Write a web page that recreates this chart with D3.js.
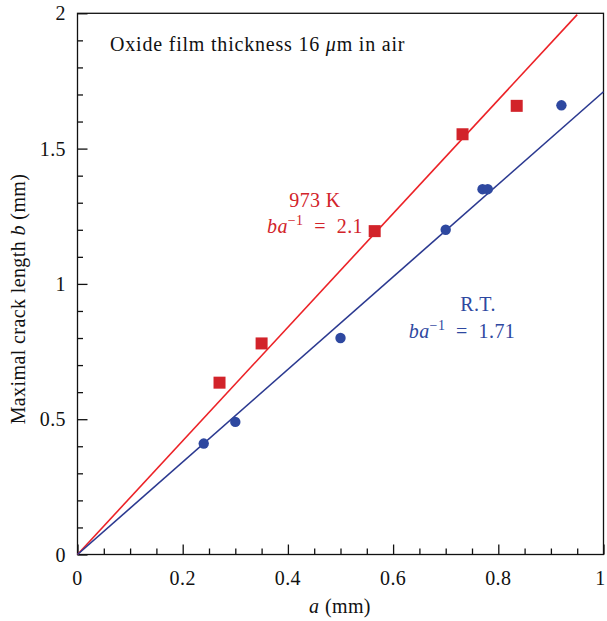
<!DOCTYPE html>
<html>
<head>
<meta charset="utf-8">
<script src="https://cdn.jsdelivr.net/npm/d3@7"></script>
<style>
  html, body { margin: 0; padding: 0; background: #fff; }
  svg { display: block; }
  text { font-family: "Liberation Serif", "DejaVu Serif", serif; letter-spacing: 0.4px; }
</style>
</head>
<body>
<svg id="chart" width="607" height="621"></svg>
<script>
// Measured crack lengths b versus indentation size a (mm)
const rtA = [0.24, 0.30, 0.50, 0.70, 0.77, 0.78, 0.92];
const rtB = [0.41, 0.49, 0.80, 1.20, 1.35, 1.35, 1.66];
const hotA = [0.27, 0.35, 0.565, 0.732, 0.835];
const hotB = [0.635, 0.78, 1.195, 1.553, 1.658];

// Fitted slopes b/a and extent of each fit line
const rtSlope = 1.71;
const hotSlope = 2.1;
const rtFitEnd = 1.0;
const hotFitEnd = 0.95;

const xTicks = [0, 0.2, 0.4, 0.6, 0.8, 1];
const yTicks = [0, 0.5, 1, 1.5, 2];
const xTickLabels = ["0", "0.2", "0.4", "0.6", "0.8", "1"];
const yTickLabels = ["0", "0.5", "1", "1.5", "2"];

const RED = "#ec2227", RED_MARK = "#d2232a";
const BLUE = "#2b3990", BLUE_MARK = "#2e48a0";
const FS = 20;
const W = 607;

const svg = d3.select("#chart");
const m = { left: 77.5, right: 603.5, top: 13.3, bottom: 554.5 };

const x = d3.scaleLinear().domain([0, 1]).range([m.left, m.right]);
const y = d3.scaleLinear().domain([0, 2]).range([m.bottom, m.top]);

// Frame
svg.append("rect")
  .attr("x", m.left).attr("y", m.top)
  .attr("width", m.right - m.left).attr("height", m.bottom - m.top)
  .attr("fill", "none").attr("stroke", "#111").attr("stroke-width", 1.3);

// Inward ticks: x minor every 0.05, y minor every 0.1
const xMinor = d3.range(0, 1.0001, 0.05);
const yMinor = d3.range(0, 2.0001, 0.1);
const isMajor = (v, step) => Math.abs(v / step - Math.round(v / step)) < 1e-6;

const xAxis = d3.axisBottom(x).tickValues(xMinor)
  .tickSize(0).tickFormat("");
const gx = svg.append("g").attr("transform", `translate(0,${m.bottom})`).call(xAxis);
gx.select(".domain").remove();
gx.selectAll(".tick line")
  .attr("y2", d => isMajor(d, 0.2) ? -10 : -6)
  .attr("stroke", "#111").attr("stroke-width", 1.3);

const yAxis = d3.axisLeft(y).tickValues(yMinor)
  .tickSize(0).tickFormat("");
const gy = svg.append("g").attr("transform", `translate(${m.left},0)`).call(yAxis);
gy.select(".domain").remove();
gy.selectAll(".tick line")
  .attr("x2", d => isMajor(d, 0.5) ? 10 : 5.5)
  .attr("stroke", "#111").attr("stroke-width", 1.3);

// Tick labels (the last one is kept inside the page edge)
svg.append("g").selectAll("text").data(xTicks).join("text")
  .attr("x", d => Math.min(x(d), W - 6.5)).attr("y", 585)
  .attr("text-anchor", "middle")
  .attr("font-size", FS).attr("fill", "#111")
  .text((d, i) => xTickLabels[i]);

svg.append("g").selectAll("text").data(yTicks).join("text")
  .attr("x", 66).attr("y", d => y(d) + 7)
  .attr("text-anchor", "end")
  .attr("font-size", FS).attr("fill", "#111")
  .text((d, i) => yTickLabels[i]);

// Axis titles
const xt = svg.append("text")
  .attr("x", 340).attr("y", 613)
  .attr("text-anchor", "middle").attr("font-size", FS).attr("fill", "#111");
xt.append("tspan").attr("font-style", "italic").text("a");
xt.append("tspan").text(" (mm)");

const yt = svg.append("text")
  .attr("transform", "translate(25,299) rotate(-90)")
  .attr("text-anchor", "middle").attr("font-size", FS).attr("fill", "#111");
yt.append("tspan").text("Maximal crack length ");
yt.append("tspan").attr("font-style", "italic").text("b");
yt.append("tspan").text(" (mm)");

// Panel caption
const cap = svg.append("text")
  .attr("x", 110).attr("y", 51)
  .attr("font-size", FS).attr("fill", "#111")
  .style("letter-spacing", "0.8px");
cap.append("tspan").text("Oxide film thickness 16 ");
cap.append("tspan").attr("font-style", "italic").text("μ");
cap.append("tspan").text("m in air");

// Fit lines through the origin
const line = d3.line().x(d => x(d[0])).y(d => y(d[1]));
svg.append("path")
  .attr("d", line([[0, 0], [hotFitEnd, hotSlope * hotFitEnd]]))
  .attr("stroke", RED).attr("stroke-width", 1.6).attr("fill", "none");
svg.append("path")
  .attr("d", line([[0, 0], [rtFitEnd, rtSlope * rtFitEnd]]))
  .attr("stroke", BLUE).attr("stroke-width", 1.6).attr("fill", "none");

// Markers
const sq = 12;
svg.append("g").selectAll("rect").data(hotA).join("rect")
  .attr("x", d => x(d) - sq / 2)
  .attr("y", (d, i) => y(hotB[i]) - sq / 2)
  .attr("width", sq).attr("height", sq)
  .attr("fill", RED_MARK);

svg.append("g").selectAll("circle").data(rtA).join("circle")
  .attr("cx", d => x(d))
  .attr("cy", (d, i) => y(rtB[i]))
  .attr("r", 5.2)
  .attr("fill", BLUE_MARK);

// Fit annotations
function slopeLabel(cx, cy, value, color) {
  const t = svg.append("text")
    .attr("x", cx).attr("y", cy)
    .attr("text-anchor", "middle").attr("font-size", FS).attr("fill", color)
    .attr("xml:space", "preserve").style("white-space", "pre");
  t.append("tspan").attr("font-style", "italic").text("ba");
  t.append("tspan").attr("font-size", 14).attr("dy", -8).text("−1");
  t.append("tspan").attr("dy", 8).text("  =  " + value);
}

svg.append("text")
  .attr("x", 315).attr("y", 207)
  .attr("text-anchor", "middle").attr("font-size", FS).attr("fill", RED_MARK)
  .text("973 K");
slopeLabel(315, 233, hotSlope, RED_MARK);

svg.append("text")
  .attr("x", 478).attr("y", 311)
  .attr("text-anchor", "middle").attr("font-size", FS).attr("fill", BLUE_MARK)
  .text("R.T.");
slopeLabel(462, 338, rtSlope, BLUE_MARK);
</script>
</body>
</html>
